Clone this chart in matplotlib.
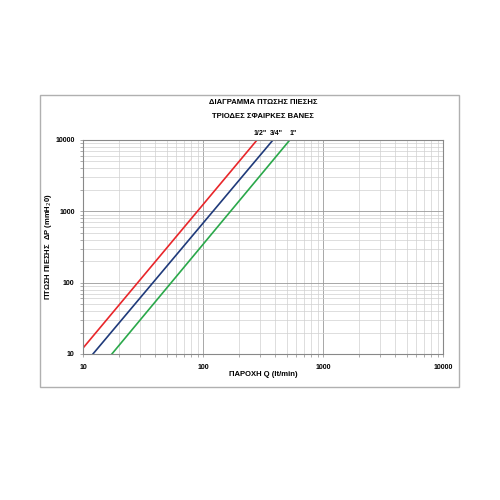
import matplotlib.pyplot as plt
from matplotlib.patches import Rectangle
from matplotlib.ticker import FixedLocator, NullFormatter

plt.rcParams['font.family'] = ['Liberation Sans', 'DejaVu Sans']

# Pressure drop lines (two end points, log-log straight)
q_half = [10, 282]
dp_half = [12.1, 10000]
q_34 = [12.1, 383]
dp_34 = [10, 10000]
q_1 = [17.4, 529]
dp_1 = [10, 10000]

size_labels = ['1/2"', '3/4"', '1"']
x_ticks = [10, 100, 1000, 10000]
y_ticks = [10, 100, 1000, 10000]

fig = plt.figure(figsize=(5, 5), dpi=100)

# outer frame
fig.patches.append(Rectangle((40 / 500, 1 - 387 / 500), 419 / 500, 292 / 500,
                             transform=fig.transFigure, fill=False,
                             edgecolor='#b0b0b0', linewidth=1.0))

ax = fig.add_axes([83 / 500, 1 - 354 / 500, 360 / 500, 214 / 500])
ax.set_xscale('log')
ax.set_yscale('log')
ax.set_xlim(10, 10000)
ax.set_ylim(10, 10000)

ax.plot(q_half, dp_half, color='#e8262a', lw=1.2)
ax.plot(q_34, dp_34, color='#1f3a7a', lw=1.2)
ax.plot(q_1, dp_1, color='#2aa84a', lw=1.2)

for q, lab in zip([q_half[1], q_34[1], q_1[1]], size_labels):
    ax.text(q * 1.07, 10900, lab, ha='center', va='bottom', fontsize=5,
            fontweight='bold')

ax.xaxis.set_major_locator(FixedLocator(x_ticks))
ax.yaxis.set_major_locator(FixedLocator(y_ticks))
ax.set_xticklabels([str(t) for t in x_ticks])
ax.set_yticklabels([str(t) for t in y_ticks])
ax.xaxis.set_minor_formatter(NullFormatter())
ax.yaxis.set_minor_formatter(NullFormatter())
ax.tick_params(which='both', labelsize=5, length=2, width=0.5, color='#888888')
ax.tick_params(axis='y', pad=4)
ax.tick_params(axis='x', pad=5)
for lab in ax.get_xticklabels() + ax.get_yticklabels():
    lab.set_fontweight('bold')

ax.grid(True, which='major', color='#999999', lw=0.6)
ax.grid(True, which='minor', color='#d0d0d0', lw=0.5)
for s in ax.spines.values():
    s.set_color('#888888')
    s.set_linewidth(0.8)

ax.set_xlabel('ΠΑΡΟΧΗ Q (lt/min)', fontsize=5.5, fontweight='bold', labelpad=0)
ax.set_ylabel('ΠΤΩΣΗ ΠΙΕΣΗΣ  ΔP (mmH$_2$0)', fontsize=5.5, fontweight='bold',
              labelpad=1)

fig.text(263 / 500, 1 - 103 / 500, 'ΔΙΑΓΡΑΜΜΑ ΠΤΩΣΗΣ ΠΙΕΣΗΣ', ha='center',
         va='center', fontsize=5.5, fontweight='bold')
fig.text(263 / 500, 1 - 116 / 500, 'ΤΡΙΟΔΕΣ ΣΦΑΙΡΚΕΣ ΒΑΝΕΣ', ha='center',
         va='center', fontsize=5.5, fontweight='bold')

fig.savefig('out.png', dpi=100)
